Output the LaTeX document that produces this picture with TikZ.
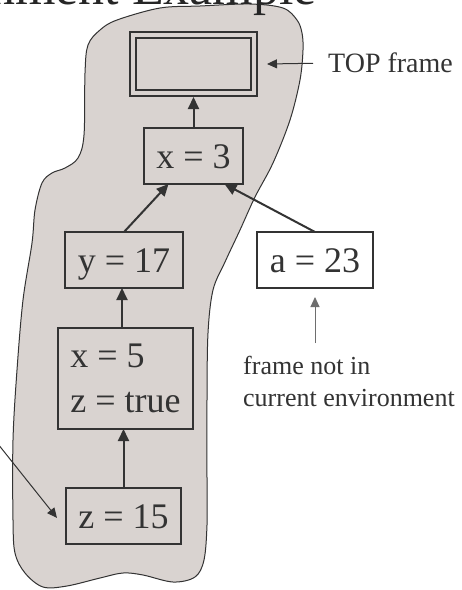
\documentclass[tikz,border=0pt]{standalone}
\usepackage{fontspec}
\setmainfont{Liberation Serif}
\usetikzlibrary{arrows.meta}
\definecolor{blobfill}{RGB}{217,211,208}
\definecolor{ink}{RGB}{51,51,51}
\definecolor{grayink}{RGB}{110,110,110}
\begin{document}
\begin{tikzpicture}[x=1pt,y=-1pt,
  frame/.style={draw=ink, line width=2pt, inner sep=0pt, outer sep=0pt, text=ink, font=\fontsize{36}{45}\selectfont},
  oneline/.style={text height=25pt, text depth=0pt},
  arr/.style={draw=ink, line width=2pt, -{Triangle[length=12pt,width=11pt]}},
  thinarr/.style={draw=ink, line width=1pt, -{Triangle[length=10pt,width=9pt]}},
  lbl/.style={text=ink, inner sep=0pt, font=\fontsize{26}{32}\selectfont}]
\clip (0,0) rectangle (462,590);
\fill[white] (0,0) rectangle (462,590);
% environment blob
\filldraw[fill=blobfill, draw=ink, line width=1pt] plot[smooth cycle, tension=0.55] coordinates {
  (100,30) (117,20) (160,8) (200,6) (250,4) (283,8) (297,20) (302,33)
  (303,50) (300,80) (290,120) (273,163) (255,197) (240,230) (225,262)
  (213,290) (208,333) (207,400) (207,480) (207,525) (204,560) (195,577)
  (173,582) (143,575) (123,573) (100,578) (67,586) (43,587) (25,573)
  (15,553) (13,520) (13,440) (17,370) (23,300) (32,243) (35,210)
  (42,183) (52,173) (65,168) (78,158) (84,135) (85,73) (88,45)};
% title (cut off at top, as in the reference)
\node[anchor=base east, inner sep=0pt, text=black!85, font=\fontsize{52}{60}\selectfont] (title) at (317,4) {Environment Example};
% frames
\node[frame, double=blobfill, double distance=4pt, minimum width=121pt, minimum height=58pt] (top) at (193.5,64) {};
\node[frame, oneline, minimum width=99pt, minimum height=56pt] (x3) at (193.5,156) {x = 3};
\node[frame, oneline, minimum width=118pt, minimum height=56pt] (y17) at (124,260) {y = 17};
\node[frame, oneline, fill=white, minimum width=116pt, minimum height=56pt] (a23) at (315,260) {a = 23};
\node[frame, align=left, minimum width=135pt, minimum height=101pt] (x5) at (125.5,378.5) {x = 5\\z = true};
\node[frame, oneline, minimum width=115pt, minimum height=56pt] (z15) at (123.5,516) {z = 15};
% labels
\node[lbl, anchor=west, font=\fontsize{28}{34}\selectfont] (toplbl) at (328,63) {TOP frame};
\node[lbl, align=left, anchor=north west] (nlbl) at (243,356) {frame not in\\current environment};
\coordinate (lft) at (-10,434);
% connectors
\draw[arr] (x3.north) -- ([yshift=-4pt]top.south);
\draw[arr] (y17.north) -- ([xshift=-25pt]x3.south);
\draw[arr] (a23.north) -- ([xshift=31pt]x3.south);
\coordinate (y17in) at ([xshift=-2pt]y17.south);
\draw[arr] (y17in |- x5.north) -- (y17in);
\draw[arr] (z15.north) -- (z15.north |- x5.south);
\draw[thinarr, shorten <=15pt] (toplbl.west) -- ([xshift=13pt]top.east);
\draw[thinarr, draw=grayink, shorten <=13pt] (nlbl.north -| a23.south) -- ([yshift=-9pt]a23.south);
\draw[thinarr] (lft) -- ([xshift=-9pt,yshift=-2pt]z15.west);
\end{tikzpicture}
\end{document}
